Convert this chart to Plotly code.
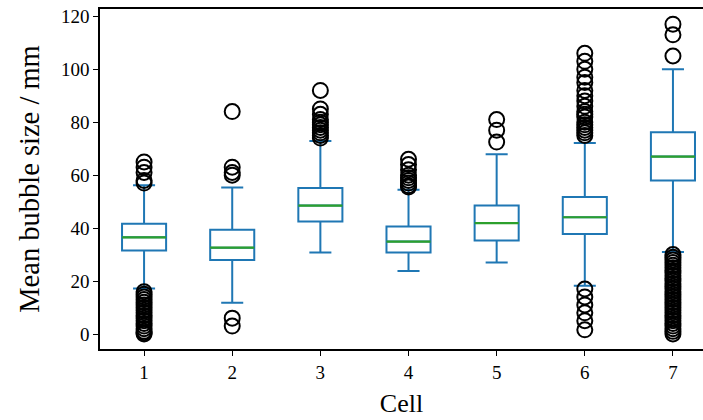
import plotly.graph_objects as go

# Summary statistics of mean bubble size per cell (mm)
cells = [1, 2, 3, 4, 5, 6, 7]
q1 = [31.5, 28.0, 42.5, 30.8, 35.3, 37.8, 58.0]
medians = [36.5, 32.6, 48.5, 34.9, 41.9, 44.1, 67.0]
q3 = [41.6, 39.4, 55.1, 40.6, 48.5, 51.7, 76.2]
whisker_low = [17.2, 11.8, 30.8, 23.8, 27.0, 18.2, 31.0]
whisker_high = [56.2, 55.3, 72.9, 54.5, 67.9, 72.1, 100.0]

# Values lying beyond the whiskers, per cell
fliers = {
    1: [65, 63, 61, 58, 57,
        16, 15, 14, 13, 12, 11, 10, 9, 8, 7, 6, 5, 4, 3, 2, 1, 0.5, 0],
    2: [84, 63, 61, 60, 6, 3],
    3: [92, 85, 83, 81, 80, 79, 78, 77, 76, 75, 74],
    4: [66, 64, 62, 60, 59, 58, 57, 56, 55.5],
    5: [81, 77, 72.5],
    6: [106, 103, 100, 97, 95, 92, 90, 88, 86, 84, 83, 82, 80, 79, 78, 77, 76, 75,
        17, 14, 11, 8, 5, 1.6],
    7: [117, 113, 105,
        30, 29, 28, 27, 26, 25, 24, 23, 22, 21, 20, 19, 18, 17, 16, 15, 14, 13,
        12, 11, 10, 9, 8, 7, 6, 5, 4, 3, 2, 1, 0],
}

y_ticks = [0, 20, 40, 60, 80, 100, 120]

BLUE = "#1f77b4"
GREEN = "#2ca02c"
FONT = "Liberation Serif"
BOX_W = 0.5

fig = go.Figure()

fig.add_trace(go.Box(
    x=cells, q1=q1, median=medians, q3=q3,
    lowerfence=whisker_low, upperfence=whisker_high,
    width=BOX_W, whiskerwidth=0.5,
    line=dict(color=BLUE, width=2),
    fillcolor="rgba(0,0,0,0)",
    boxpoints=False, showlegend=False, hoverinfo="skip",
))

# Green median lines drawn over the boxes
mx, my = [], []
for c, m in zip(cells, medians):
    mx += [c - BOX_W / 2, c + BOX_W / 2, None]
    my += [m, m, None]
fig.add_trace(go.Scatter(
    x=mx, y=my, mode="lines",
    line=dict(color=GREEN, width=2.2),
    showlegend=False, hoverinfo="skip",
))

fx, fy = [], []
for c in cells:
    fx += [c] * len(fliers[c])
    fy += fliers[c]
fig.add_trace(go.Scatter(
    x=fx, y=fy, mode="markers",
    marker=dict(symbol="circle-open", size=15, color="black",
                line=dict(color="black", width=2)),
    showlegend=False, hoverinfo="skip",
))

axis_common = dict(
    showline=True, linecolor="black", linewidth=1.5,
    ticks="outside", ticklen=5, tickwidth=1.3, tickcolor="black",
    showgrid=False, zeroline=False,
    tickfont=dict(family=FONT, size=19, color="black"),
)

fig.update_layout(
    width=703, height=420,
    margin=dict(l=100, r=0, t=9, b=71),
    plot_bgcolor="white", paper_bgcolor="white",
    xaxis=dict(
        range=[0.5, 0.5 + 602 / 88], tickvals=cells, ticktext=[str(c) for c in cells],
        mirror=True,
        title=dict(text="Cell", font=dict(family=FONT, size=26, color="black"), standoff=12),
        **axis_common,
    ),
    yaxis=dict(
        range=[-5.66, 122.75], tickvals=y_ticks,
        title=dict(text="Mean bubble size / mm", font=dict(family=FONT, size=28.5, color="black"),
                   standoff=13),
        **axis_common,
    ),
)

fig.write_html("out.html")
